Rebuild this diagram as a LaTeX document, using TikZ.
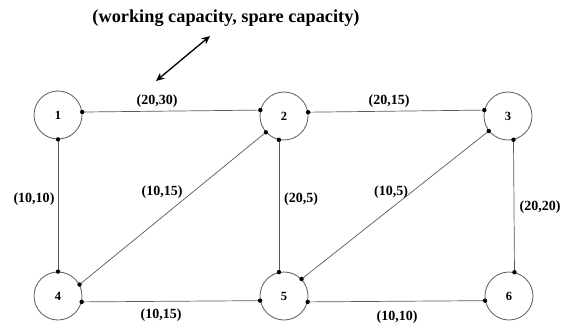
\documentclass[tikz,border=0pt]{standalone}
\usepackage{fontspec}
\setmainfont{Liberation Serif}
\usetikzlibrary{arrows.meta}
\definecolor{linegray}{RGB}{90,90,90}

\begin{document}
\begin{tikzpicture}[x=1pt,y=-1pt,
    netnode/.style={circle,draw=linegray,line width=0.8pt,minimum size=48pt,inner sep=0pt,
      font=\fontsize{12.5}{14}\selectfont\bfseries},
    caplabel/.style={font=\fontsize{14}{16}\selectfont\bfseries,inner sep=0pt},
    link/.style={draw=linegray,line width=0.7pt}
  ]
  \useasboundingbox (0,0) rectangle (564,326);

  % nodes of the network
  \node[netnode] (n1) at (58,115) {1};
  \node[netnode] (n2) at (284,116) {2};
  \node[netnode] (n3) at (508,116) {3};
  \node[netnode] (n4) at (58,296) {4};
  \node[netnode] (n5) at (284,296) {5};
  \node[netnode] (n6) at (509,296) {6};

  % links, with a dot where each one meets a node
  \foreach \a/\b in {n1.7/n2.166, n2.9/n3.166, n1.270/n4.90, n2.258/n5.102,
                     n3.283/n6.77, n2.222/n4.28, n3.218/n5.44,
                     n4.346/n5.191, n5.346/n6.191} {
    \draw[link] (\a) -- (\b);
    \fill (\a) circle (2.2pt);
    \fill (\b) circle (2.2pt);
  }

  % (working, spare) on each link
  \node[caplabel] (c12) at (157,101) {(20,30)};
  \node[caplabel] (c23) at (389,101) {(20,15)};
  \node[caplabel] (c14) at (34,199) {(10,10)};
  \node[caplabel] (c24) at (162,192) {(10,15)};
  \node[caplabel] (c25) at (301,199) {(20,5)};
  \node[caplabel] (c35) at (391,192) {(10,5)};
  \node[caplabel] (c36) at (540,207) {(20,20)};
  \node[caplabel] (c45) at (161,315) {(10,15)};
  \node[caplabel] (c56) at (397,317) {(10,10)};

  % legend on top
  \node[font=\fontsize{18.3}{20}\selectfont\bfseries,inner sep=0pt] (title) at (226,18)
    {(working capacity, spare capacity)};
  \coordinate (tipA) at (210,36);
  \coordinate (tipB) at (156,81);
  \draw[{Stealth[length=8.5pt,width=7.5pt]}-{Stealth[length=8.5pt,width=7.5pt]},line width=1.3pt]
    (tipA) -- (tipB);
\end{tikzpicture}
\end{document}
